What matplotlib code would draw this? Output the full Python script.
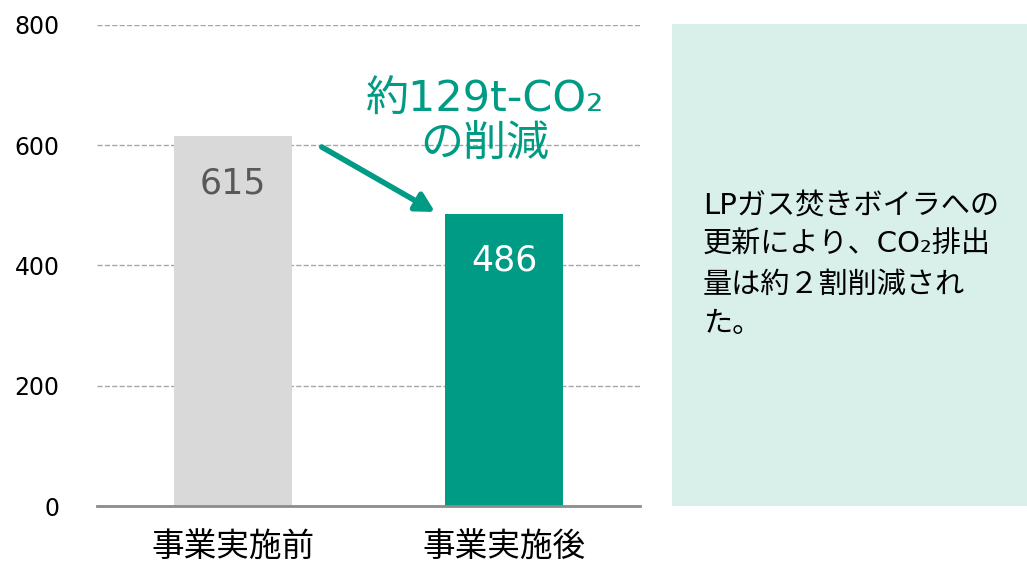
import matplotlib
matplotlib.use('Agg')
import matplotlib.pyplot as plt
from matplotlib.patches import Rectangle

plt.rcParams['font.family'] = ['DejaVu Sans', 'Noto Sans CJK JP']

# data
categories = ['事業実施前', '事業実施後']
values = [615, 486]
bar_colors = ['#D9D9D9', '#009B84']
label_colors = ['#595959', '#FFFFFF']
yticks = [0, 200, 400, 600, 800]
note_text = '約129t-CO₂\nの削減'
box_text = 'LPガス焚きボイラへの\n更新により、CO₂排出\n量は約２割削減され\nた。'

fig = plt.figure(figsize=(10.27, 5.66), dpi=100)
ax = fig.add_axes([0.0944, 0.106, 0.5287, 0.85])

x = range(len(categories))
ax.bar(x, values, width=0.436, color=bar_colors, zorder=3)
for i, v in enumerate(values):
    ax.text(i, v - 78, str(v), ha='center', va='center', fontsize=25,
            color=label_colors[i], zorder=4)

ax.set_xlim(-0.5, 1.5)
ax.set_ylim(0, 800)
ax.set_yticks(yticks)
ax.set_xticks(list(x))
ax.set_xticklabels(categories, fontsize=23.5)
ax.tick_params(axis='y', length=0, pad=27, labelsize=17)
ax.tick_params(axis='x', length=0, pad=18)
ax.yaxis.grid(True, linestyle='--', color='#A6A6A6', linewidth=1, zorder=0)
for s in ['top', 'right', 'left']:
    ax.spines[s].set_visible(False)
ax.spines['bottom'].set_color('#8C8C8C')
ax.spines['bottom'].set_linewidth(2)
ax.spines['bottom'].set_zorder(5)

# reduction note + arrow
ax.text(0.93, 638, note_text, ha='center', va='center', fontsize=31,
        color='#009B84', linespacing=1.12)
ax.annotate('', xy=(0.745, 489), xytext=(0.328, 597),
            arrowprops=dict(arrowstyle='-|>,head_length=1.1,head_width=0.6',
                            color='#009B84', lw=4, shrinkA=0, shrinkB=0))

# side box
fig.patches.append(Rectangle((0.654, 0.106), 0.346, 0.852, transform=fig.transFigure,
                             facecolor='#D9F0EA', edgecolor='none', zorder=0))
fig.text(0.6845, 0.532, box_text, ha='left', va='center', fontsize=21,
         color='#000000', linespacing=1.52)

fig.savefig('out.png', dpi=100)
